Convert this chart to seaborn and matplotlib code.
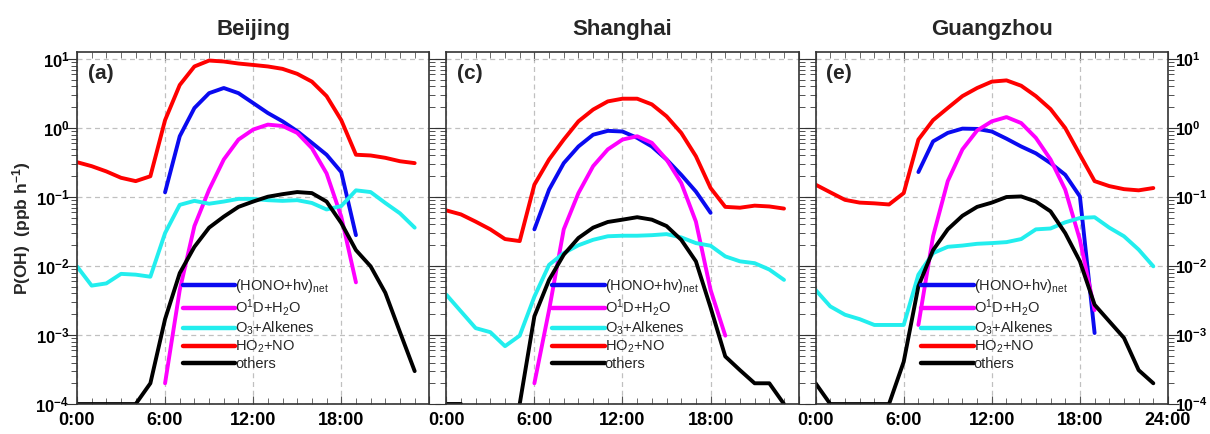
import numpy as np
import pandas as pd
import seaborn as sns
import matplotlib.pyplot as plt
from matplotlib.lines import Line2D
from matplotlib.ticker import LogLocator, NullFormatter, MultipleLocator

nan = np.nan
hours = list(range(24))
cities = ["Beijing", "Shanghai", "Guangzhou"]
panel_tags = ["(a)", "(c)", "(e)"]
series_names = ["(HONO+hv)$_{net}$", "O$^1$D+H$_2$O", "O$_3$+Alkenes", "HO$_2$+NO", "others"]
series_colors = ["#0a0af0", "#ff00ff", "#22eeee", "#ff0000", "#000000"]

# Beijing
bj_hono = [nan] * 6 + [0.117, 0.76, 1.95, 3.2, 3.8, 3.2, 2.3, 1.65, 1.25, 0.9, 0.61, 0.41, 0.23, 0.028] + [nan] * 4
bj_o1d = [nan] * 6 + [2e-4, 4.5e-3, 0.038, 0.128, 0.35, 0.68, 0.95, 1.12, 1.07, 0.85, 0.51, 0.22, 0.052, 5.8e-3] + [nan] * 4
bj_o3 = [0.0099, 0.0052, 0.0056, 0.0077, 0.0075, 0.0070, 0.030, 0.077, 0.088, 0.080, 0.086, 0.094,
         0.094, 0.090, 0.088, 0.090, 0.082, 0.066, 0.074, 0.125, 0.118, 0.082, 0.058, 0.036]
bj_ho2 = [0.32, 0.28, 0.235, 0.19, 0.17, 0.20, 1.3, 4.2, 7.8, 9.5, 9.2, 8.6,
          8.2, 7.8, 7.2, 6.1, 4.7, 2.9, 1.3, 0.41, 0.40, 0.37, 0.33, 0.31]
bj_oth = [1e-4, 1e-4, 1e-4, 1e-4, 1e-4, 2e-4, 1.7e-3, 7.9e-3, 0.019, 0.036, 0.052, 0.072,
          0.086, 0.101, 0.110, 0.118, 0.114, 0.086, 0.042, 0.017, 0.0099, 4.1e-3, 1.1e-3, 3e-4]

# Shanghai
sh_hono = [nan] * 6 + [0.034, 0.128, 0.31, 0.54, 0.80, 0.91, 0.89, 0.72, 0.54, 0.35, 0.21, 0.12, 0.059] + [nan] * 5
sh_o1d = [nan] * 6 + [2e-4, 2.3e-3, 0.034, 0.114, 0.28, 0.49, 0.68, 0.76, 0.61, 0.35, 0.16, 0.044, 4.5e-3, 9.8e-4] + [nan] * 4
sh_o3 = [3.85e-3, 2.2e-3, 1.26e-3, 1.1e-3, 6.9e-4, 9.8e-4, 3.6e-3, 0.0104, 0.0154, 0.020, 0.024, 0.027,
         0.0275, 0.0275, 0.028, 0.029, 0.026, 0.0215, 0.0197, 0.0138, 0.0117, 0.011, 0.0089, 0.0063]
sh_ho2 = [0.064, 0.056, 0.044, 0.034, 0.0246, 0.023, 0.151, 0.35, 0.68, 1.25, 1.85, 2.43,
          2.66, 2.66, 2.2, 1.48, 0.85, 0.39, 0.135, 0.072, 0.070, 0.075, 0.073, 0.068]
sh_oth = [1e-4, 1e-4, nan, nan, nan, 1e-4, 1.87e-3, 6.3e-3, 0.0146, 0.0255, 0.036, 0.0435,
          0.047, 0.051, 0.047, 0.038, 0.024, 0.0117, 2.5e-3, 4.9e-4, 3.1e-4, 2e-4, 2e-4, 1e-4]

# Guangzhou
gz_hono = [nan] * 7 + [0.23, 0.64, 0.85, 0.98, 0.97, 0.89, 0.70, 0.54, 0.43, 0.31, 0.21, 0.102, 1.07e-3] + [nan] * 4
gz_o1d = [nan] * 7 + [1.4e-3, 0.027, 0.17, 0.49, 0.92, 1.25, 1.44, 1.18, 0.72, 0.35, 0.128, 0.024, 2.3e-3] + [nan] * 4
gz_o3 = [4.5e-3, 2.6e-3, 1.97e-3, 1.7e-3, 1.4e-3, 1.4e-3, 1.4e-3, 7.5e-3, 0.0154, 0.019, 0.0198, 0.021,
         0.0215, 0.0222, 0.0246, 0.034, 0.035, 0.043, 0.0497, 0.051, 0.036, 0.027, 0.0173, 0.0099]
gz_ho2 = [0.151, 0.117, 0.091, 0.083, 0.081, 0.078, 0.114, 0.68, 1.3, 1.95, 2.9, 3.8,
          4.7, 4.9, 4.1, 2.9, 1.88, 1.0, 0.41, 0.17, 0.144, 0.13, 0.125, 0.135]
gz_oth = [2e-4, 1e-4, 1e-4, 1e-4, 1e-4, 1e-4, 4.1e-4, 5.1e-3, 0.017, 0.034, 0.0535, 0.072,
          0.083, 0.10, 0.102, 0.086, 0.062, 0.030, 0.0117, 2.75e-3, 1.58e-3, 9.1e-4, 3.1e-4, 2e-4]

city_data = {
    "Beijing": [bj_hono, bj_o1d, bj_o3, bj_ho2, bj_oth],
    "Shanghai": [sh_hono, sh_o1d, sh_o3, sh_ho2, sh_oth],
    "Guangzhou": [gz_hono, gz_o1d, gz_o3, gz_ho2, gz_oth],
}

# long table; 'seg' splits a series where values are missing
rows = []
for city, lists in city_data.items():
    for name, vals in zip(series_names, lists):
        seg = 0
        for h, v in zip(hours, vals):
            if np.isnan(v):
                seg += 1
            rows.append({"city": city, "series": name, "hour": h, "value": v, "seg": seg})
df = pd.DataFrame(rows)

sns.set_style("ticks")
plt.rcParams["font.family"] = ["Liberation Sans", "DejaVu Sans"]
plt.rcParams["mathtext.default"] = "regular"
plt.rcParams["axes.linewidth"] = 1.2

palette = dict(zip(series_names, series_colors))

fig, axes = plt.subplots(1, 3, figsize=(12.1, 4.34), dpi=100)
fig.subplots_adjust(left=0.0636, right=0.9653, bottom=0.069, top=0.880, wspace=0.048)

for i, (ax, city) in enumerate(zip(axes, cities)):
    ax.set_yscale("log")
    sub = df[df["city"] == city]
    sns.lineplot(data=sub, x="hour", y="value", hue="series", hue_order=series_names,
                 palette=palette, units="seg", estimator=None, lw=2.8, ax=ax, legend=False)

    ax.set_xlim(0, 24)
    ax.set_ylim(1e-4, 12.6)
    if i == 2:
        ax.set_xticks([0, 6, 12, 18, 24], labels=["0:00", "6:00", "12:00", "18:00", "24:00"])
    else:
        ax.set_xticks([0, 6, 12, 18, 24], labels=["0:00", "6:00", "12:00", "18:00", ""])
    ax.xaxis.set_minor_locator(MultipleLocator(1))
    ax.yaxis.set_major_locator(LogLocator(base=10, numticks=10))
    ax.yaxis.set_minor_locator(LogLocator(base=10, subs=np.arange(2, 10), numticks=20))
    ax.yaxis.set_minor_formatter(NullFormatter())

    ax.grid(True, which="major", ls=(0, (4, 3)), color="#c0c0c0", lw=0.9)
    for s in ax.spines.values():
        s.set_color("#333333")

    ax.tick_params(axis="x", which="both", direction="in", top=True, bottom=True,
                   colors="#555555", labelcolor="black")
    ax.tick_params(axis="x", which="major", length=6, labelsize=13, pad=6)
    ax.tick_params(axis="x", which="minor", length=4)
    ax.tick_params(axis="y", which="both", direction="out", left=True, right=True,
                   colors="#333333", labelcolor="black")
    ax.tick_params(axis="y", which="major", length=8, labelsize=12, pad=-2.5)
    ax.tick_params(axis="y", which="minor", length=4)
    if i == 0:
        ax.tick_params(axis="y", labelleft=True, labelright=False)
    elif i == 1:
        ax.tick_params(axis="y", labelleft=False, labelright=False)
    else:
        ax.tick_params(axis="y", labelleft=False, labelright=True, labelsize=11.5, pad=-3)
    for lab in ax.get_xticklabels() + ax.get_yticklabels():
        lab.set_fontweight("bold")

    ax.set_xlabel("")
    ax.set_ylabel("")
    ax.set_title(city, fontsize=16, fontweight="bold", pad=12)
    ax.text(0.03, 0.965, panel_tags[i], transform=ax.transAxes, fontsize=15,
            fontweight="bold", va="top", ha="left")

    handles = [Line2D([], [], color=c, lw=3.2) for c in series_colors]
    ax.legend(handles, series_names, loc="upper left", bbox_to_anchor=(0.30, 0.36),
              frameon=False, handlelength=3.6, handletextpad=0.0, labelspacing=0.12,
              borderaxespad=0, borderpad=0, fontsize=10.5)

axes[0].set_ylabel("P(OH)  (ppb h$^{-1}$)", fontsize=12.5, fontweight="bold")
axes[0].yaxis.set_label_coords(-0.125, 0.5)

fig.savefig("out.png", dpi=100)
